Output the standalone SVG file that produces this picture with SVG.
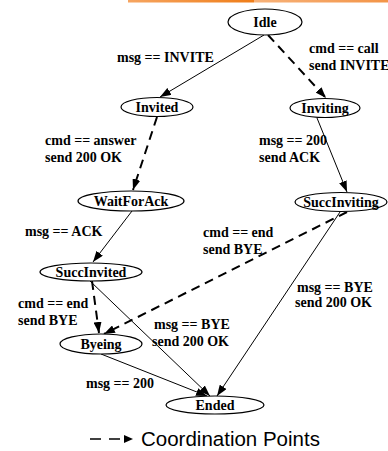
<svg xmlns="http://www.w3.org/2000/svg" width="388" height="451" viewBox="0 0 388 451">
<defs>
<linearGradient id="barA" x1="0" y1="0" x2="1" y2="0">
<stop offset="0" stop-color="#f6a561"/>
<stop offset="1" stop-color="#ef7d18"/>
</linearGradient>
<linearGradient id="barB" x1="0" y1="0" x2="1" y2="0">
<stop offset="0" stop-color="#f7b27a"/>
<stop offset="1" stop-color="#f39447"/>
</linearGradient>
<marker id="ah" markerUnits="userSpaceOnUse" markerWidth="11" markerHeight="8" refX="11" refY="4" orient="auto">
<path d="M0,0 L11,4 L0,8 z" fill="#000"/>
</marker>
<style>
.node ellipse{fill:#fff;stroke:#000;stroke-width:1.2}
.node text{font-family:"Liberation Serif","Times New Roman",serif;font-weight:bold;font-size:14px;text-anchor:middle;fill:#000}
.lbl{font-family:"Liberation Serif","Times New Roman",serif;font-weight:bold;font-size:14px;fill:#000}
.solid{stroke:#000;stroke-width:1;fill:none;marker-end:url(#ah)}
.dash{stroke:#000;stroke-width:2;stroke-dasharray:9 6;fill:none;marker-end:url(#ah)}
.legend{font-family:"Liberation Sans",Arial,sans-serif;font-size:20.5px;fill:#000}
</style>
</defs>
<rect width="388" height="451" fill="#fff"/>
<rect x="128" y="0" width="126" height="2.5" fill="url(#barA)"/>
<rect x="254" y="0" width="134" height="2.5" fill="url(#barB)"/>

<g id="connectors">
<line class="solid" x1="264" y1="35" x2="160" y2="97"/>
<line class="dash" x1="268" y1="35" x2="326" y2="98"/>
<line class="dash" x1="157" y1="117" x2="133" y2="190"/>
<line class="solid" x1="317" y1="118" x2="347" y2="192"/>
<line class="solid" x1="132" y1="211" x2="93" y2="262"/>
<line class="dash" x1="347" y1="212" x2="104" y2="334"/>
<line class="dash" x1="92" y1="281" x2="99" y2="333"/>
<line class="solid" x1="90" y1="281" x2="210" y2="396"/>
<line class="solid" x1="340" y1="212" x2="217" y2="396"/>
<line class="solid" x1="101" y1="354" x2="207" y2="396"/>
</g>

<g id="labels">
<text class="lbl" x="117" y="62">msg == INVITE</text>
<text class="lbl" x="309" y="53">cmd == call</text>
<text class="lbl" x="309" y="70">send INVITE</text>
<text class="lbl" x="45" y="145">cmd == answer</text>
<text class="lbl" x="45" y="162">send 200 OK</text>
<text class="lbl" x="259" y="145">msg == 200</text>
<text class="lbl" x="259" y="162">send ACK</text>
<text class="lbl" x="25" y="236">msg == ACK</text>
<text class="lbl" x="203" y="237">cmd == end</text>
<text class="lbl" x="203" y="254">send BYE</text>
<text class="lbl" x="297" y="292">msg == BYE</text>
<text class="lbl" x="295" y="307">send 200 OK</text>
<text class="lbl" x="18" y="308">cmd == end</text>
<text class="lbl" x="18" y="325">send BYE</text>
<text class="lbl" x="154" y="329">msg == BYE</text>
<text class="lbl" x="152" y="346">send 200 OK</text>
<text class="lbl" x="86" y="388">msg == 200</text>
</g>

<g id="Idle" class="node"><ellipse cx="265" cy="22" rx="37" ry="13"/><text x="265" y="27">Idle</text></g>
<g id="Invited" class="node"><ellipse cx="157" cy="107" rx="36" ry="9.5"/><text x="157" y="112">Invited</text></g>
<g id="Inviting" class="node"><ellipse cx="325" cy="108" rx="35" ry="9.5"/><text x="325" y="113">Inviting</text></g>
<g id="WaitForAck" class="node"><ellipse cx="131" cy="201" rx="53" ry="10"/><text x="131" y="206">WaitForAck</text></g>
<g id="SuccInviting" class="node"><ellipse cx="341" cy="202" rx="46" ry="9.5"/><text x="341" y="207">SuccInviting</text></g>
<g id="SuccInvited" class="node"><ellipse cx="91" cy="272" rx="51" ry="9"/><text x="91" y="277">SuccInvited</text></g>
<g id="Byeing" class="node"><ellipse cx="101" cy="344" rx="41" ry="10"/><text x="101" y="349">Byeing</text></g>
<g id="Ended" class="node"><ellipse cx="215" cy="405" rx="49" ry="9"/><text x="215" y="410">Ended</text></g>

<g id="legend">
<line x1="90" y1="439" x2="101" y2="439" stroke="#000" stroke-width="1.5"/>
<line x1="109" y1="439" x2="120" y2="439" stroke="#000" stroke-width="1.5"/>
<path d="M124,435 L133,439 L124,443 z" fill="#000"/>
<text class="legend" x="141" y="446">Coordination Points</text>
</g>
</svg>
